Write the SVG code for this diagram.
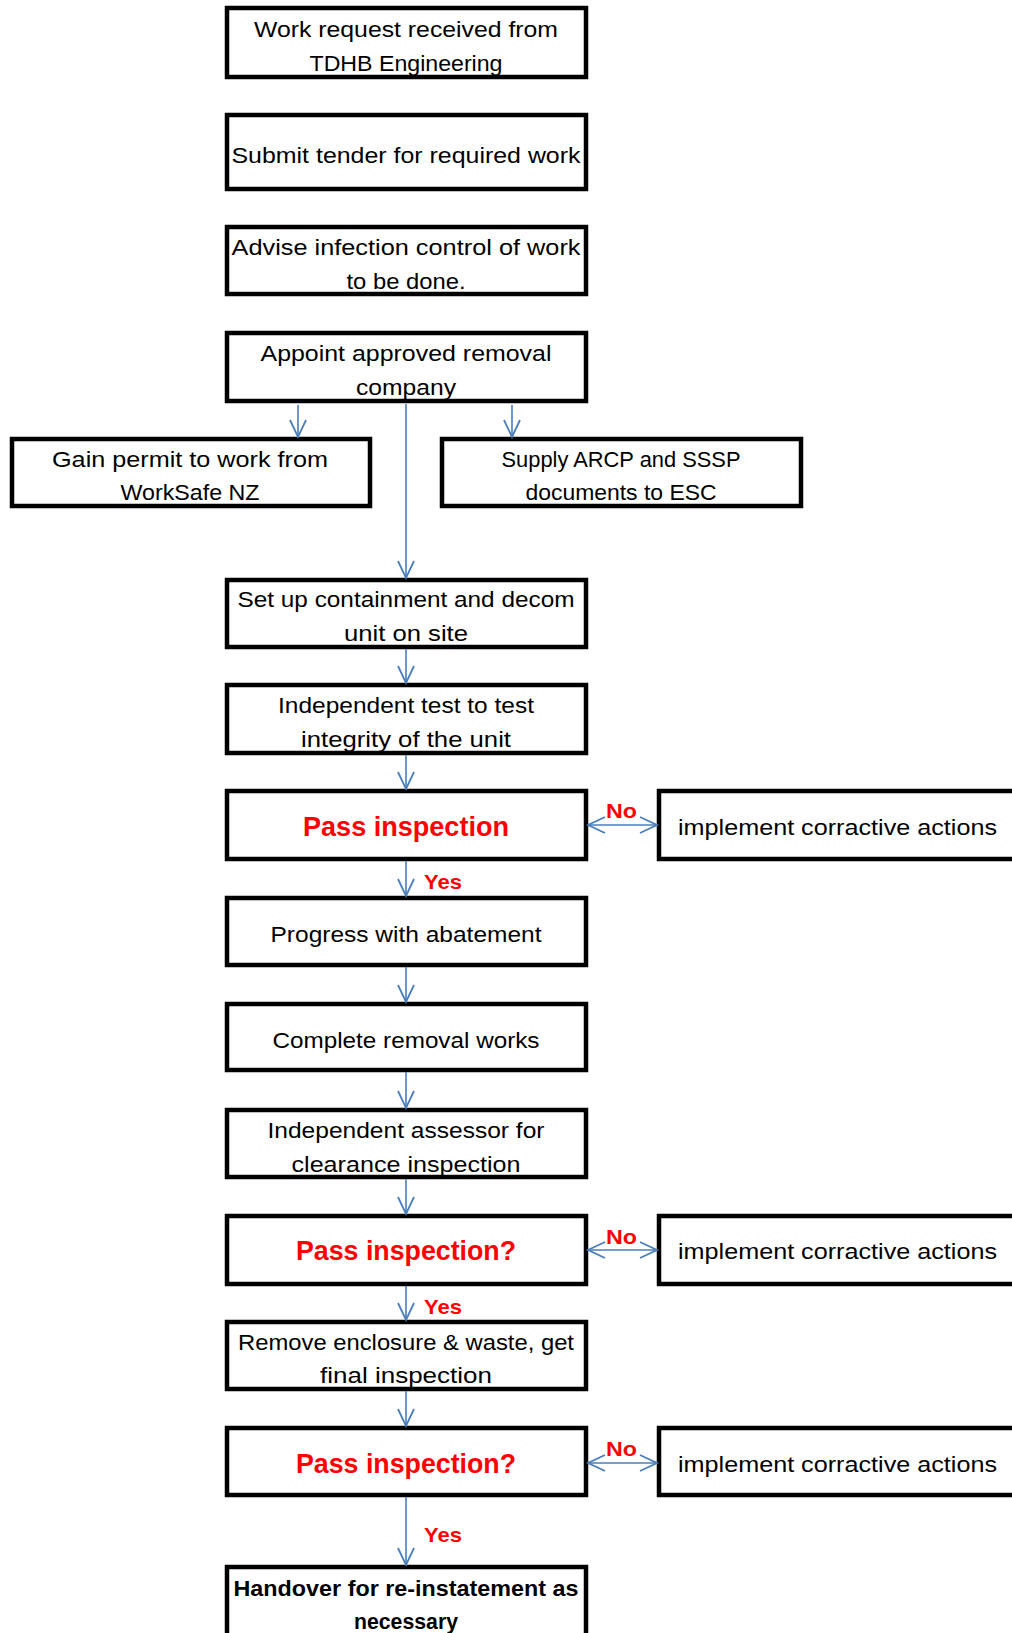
<svg xmlns="http://www.w3.org/2000/svg" width="1012" height="1633" viewBox="0 0 1012 1633">
<style>
.box{fill:#fff;stroke:#000;stroke-width:4.5}
.t{font-family:"Liberation Sans",Arial,sans-serif;font-size:22.5px;fill:#000;text-anchor:middle}
.tl{font-family:"Liberation Sans",Arial,sans-serif;font-size:22.5px;fill:#000}
.red{font-family:"Liberation Sans",Arial,sans-serif;font-weight:bold;font-size:28px;fill:#ff0000;text-anchor:middle}
.lab{font-family:"Liberation Sans",Arial,sans-serif;font-weight:bold;font-size:21px;fill:#ff0000}
.bold{font-family:"Liberation Sans",Arial,sans-serif;font-weight:bold;font-size:22.5px;fill:#000;text-anchor:middle}
.c{fill:none;stroke:#4a7ebb;stroke-width:1.6}
</style>
<defs>
<marker id="ah" markerUnits="userSpaceOnUse" markerWidth="22" markerHeight="20" refX="18" refY="9" orient="auto-start-reverse">
<path d="M1,1 L18,9 L1,17" fill="none" stroke="#4a7ebb" stroke-width="1.8"/>
</marker>
</defs>
<rect width="1012" height="1633" fill="#fff"/>
<g id="n1"><rect class="box" x="227" y="8" width="359" height="69"/><text class="t" x="406" y="37" textLength="304" lengthAdjust="spacingAndGlyphs">Work request received from</text><text class="t" x="406" y="71" textLength="193" lengthAdjust="spacingAndGlyphs">TDHB Engineering</text></g>
<g id="n2"><rect class="box" x="227" y="115" width="359" height="74"/><text class="t" x="406" y="163" textLength="349" lengthAdjust="spacingAndGlyphs">Submit tender for required work</text></g>
<g id="n3"><rect class="box" x="227" y="227" width="359" height="67"/><text class="t" x="406" y="255" textLength="349" lengthAdjust="spacingAndGlyphs">Advise infection control of work</text><text class="t" x="406" y="289" textLength="119" lengthAdjust="spacingAndGlyphs">to be done.</text></g>
<g id="n4"><rect class="box" x="227" y="333" width="359" height="68"/><text class="t" x="406" y="361" textLength="291" lengthAdjust="spacingAndGlyphs">Appoint approved removal</text><text class="t" x="406" y="395" textLength="100" lengthAdjust="spacingAndGlyphs">company</text></g>
<g id="n5"><rect class="box" x="12" y="439" width="358" height="67"/><text class="t" x="190" y="467" textLength="276" lengthAdjust="spacingAndGlyphs">Gain permit to work from</text><text class="t" x="190" y="500" textLength="139" lengthAdjust="spacingAndGlyphs">WorkSafe NZ</text></g>
<g id="n6"><rect class="box" x="442" y="439" width="359" height="67"/><text class="t" x="621" y="467" textLength="239" lengthAdjust="spacingAndGlyphs">Supply ARCP and SSSP</text><text class="t" x="621" y="500" textLength="191" lengthAdjust="spacingAndGlyphs">documents to ESC</text></g>
<g id="n7"><rect class="box" x="227" y="580" width="359" height="67"/><text class="t" x="406" y="607" textLength="337" lengthAdjust="spacingAndGlyphs">Set up containment and decom</text><text class="t" x="406" y="641" textLength="124" lengthAdjust="spacingAndGlyphs">unit on site</text></g>
<g id="n8"><rect class="box" x="227" y="685" width="359" height="68"/><text class="t" x="406" y="713" textLength="256" lengthAdjust="spacingAndGlyphs">Independent test to test</text><text class="t" x="406" y="747" textLength="210" lengthAdjust="spacingAndGlyphs">integrity of the unit</text></g>
<g id="n9"><rect class="box" x="227" y="791" width="359" height="68"/><text class="red" x="406" y="836" textLength="206" lengthAdjust="spacingAndGlyphs">Pass inspection</text></g>
<g id="n10"><rect class="box" x="659" y="791" width="400" height="68"/><text class="tl" x="678" y="835" textLength="319" lengthAdjust="spacingAndGlyphs">implement corractive actions</text></g>
<g id="n11"><rect class="box" x="227" y="898" width="359" height="67"/><text class="t" x="406" y="942" textLength="271" lengthAdjust="spacingAndGlyphs">Progress with abatement</text></g>
<g id="n12"><rect class="box" x="227" y="1004" width="359" height="66"/><text class="t" x="406" y="1048" textLength="267" lengthAdjust="spacingAndGlyphs">Complete removal works</text></g>
<g id="n13"><rect class="box" x="227" y="1110" width="359" height="67"/><text class="t" x="406" y="1138" textLength="277" lengthAdjust="spacingAndGlyphs">Independent assessor for</text><text class="t" x="406" y="1172" textLength="229" lengthAdjust="spacingAndGlyphs">clearance inspection</text></g>
<g id="n14"><rect class="box" x="227" y="1216" width="359" height="68"/><text class="red" x="406" y="1260" textLength="220" lengthAdjust="spacingAndGlyphs">Pass inspection?</text></g>
<g id="n15"><rect class="box" x="659" y="1216" width="400" height="68"/><text class="tl" x="678" y="1259" textLength="319" lengthAdjust="spacingAndGlyphs">implement corractive actions</text></g>
<g id="n16"><rect class="box" x="227" y="1322" width="359" height="67"/><text class="t" x="406" y="1350" textLength="336" lengthAdjust="spacingAndGlyphs">Remove enclosure &amp; waste, get</text><text class="t" x="406" y="1383" textLength="172" lengthAdjust="spacingAndGlyphs">final inspection</text></g>
<g id="n17"><rect class="box" x="227" y="1428" width="359" height="67"/><text class="red" x="406" y="1473" textLength="220" lengthAdjust="spacingAndGlyphs">Pass inspection?</text></g>
<g id="n18"><rect class="box" x="659" y="1428" width="400" height="67"/><text class="tl" x="678" y="1472" textLength="319" lengthAdjust="spacingAndGlyphs">implement corractive actions</text></g>
<g id="n19"><rect class="box" x="227" y="1567" width="359" height="100"/><text class="bold" x="406" y="1596" textLength="345" lengthAdjust="spacingAndGlyphs">Handover for re-instatement as</text><text class="bold" x="406" y="1629" textLength="104" lengthAdjust="spacingAndGlyphs">necessary</text></g>
<g id="connectors">
<path class="c" d="M298,405 V437" marker-end="url(#ah)"/>
<path class="c" d="M512,405 V437" marker-end="url(#ah)"/>
<path class="c" d="M406,404 V578" marker-end="url(#ah)"/>
<path class="c" d="M406,649 V683" marker-end="url(#ah)"/>
<path class="c" d="M406,755 V789" marker-end="url(#ah)"/>
<path class="c" d="M406,861 V896" marker-end="url(#ah)" stroke-width="2.6"/>
<path class="c" d="M406,967 V1002" marker-end="url(#ah)"/>
<path class="c" d="M406,1072 V1108" marker-end="url(#ah)"/>
<path class="c" d="M406,1179 V1214" marker-end="url(#ah)"/>
<path class="c" d="M406,1286 V1320" marker-end="url(#ah)"/>
<path class="c" d="M406,1391 V1426" marker-end="url(#ah)"/>
<path class="c" d="M406,1497 V1565" marker-end="url(#ah)"/>
<path class="c" d="M588,825 H657" marker-start="url(#ah)" marker-end="url(#ah)" stroke-width="2"/>
<path class="c" d="M588,1250 H657" marker-start="url(#ah)" marker-end="url(#ah)" stroke-width="2"/>
<path class="c" d="M588,1463 H657" marker-start="url(#ah)" marker-end="url(#ah)" stroke-width="2"/>
<text class="lab" x="606" y="818" textLength="31" lengthAdjust="spacingAndGlyphs">No</text>
<text class="lab" x="606" y="1244" textLength="31" lengthAdjust="spacingAndGlyphs">No</text>
<text class="lab" x="606" y="1456" textLength="31" lengthAdjust="spacingAndGlyphs">No</text>
<text class="lab" x="424" y="889" textLength="38" lengthAdjust="spacingAndGlyphs">Yes</text>
<text class="lab" x="424" y="1314" textLength="38" lengthAdjust="spacingAndGlyphs">Yes</text>
<text class="lab" x="424" y="1542" textLength="38" lengthAdjust="spacingAndGlyphs">Yes</text>
</g>
</svg>
